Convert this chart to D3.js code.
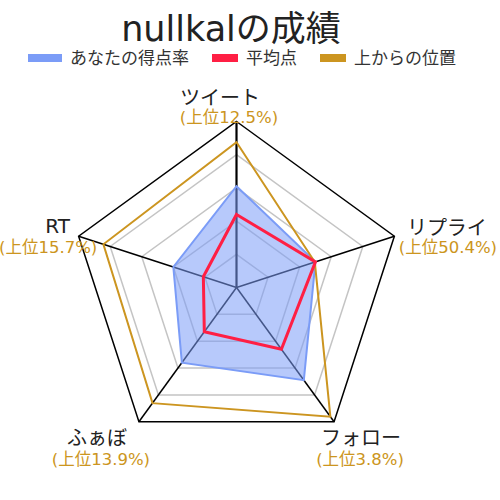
<!DOCTYPE html>
<html>
<head>
<meta charset="utf-8">
<script src="https://cdn.jsdelivr.net/npm/d3@7"></script>
<style>
  body { margin: 0; background: #fff; }
  text { font-family: "DejaVu Sans", "Noto Sans CJK JP", sans-serif; }
</style>
</head>
<body>
<div id="chart"></div>
<script>
// data (order: clockwise from the top)
var axisNames = ["ツイート", "リプライ", "フォロー", "ふぁぼ", "RT"];
var rankLabels = ["(上位12.5%)", "(上位50.4%)", "(上位3.8%)", "(上位13.9%)", "(上位15.7%)"];
var myRate = [61, 50, 69, 56, 40];
var average = [44, 50, 46, 33, 21];
var fromTop = [87.5, 49.6, 96.2, 86.1, 84.3];
var gridTicks = [20, 40, 60, 80, 100];
var seriesNames = ["あなたの得点率", "平均点", "上からの位置"];

var W = 500, H = 500;
var cx = 236.5, cy = 287.5, R = 166;
var blue = "#7b9cf7", red = "#ff1f44", gold = "#cc9520";

var r = d3.scaleLinear().domain([0, 100]).range([0, R]);
var angle = d3.scaleLinear().domain([0, axisNames.length]).range([0, 2 * Math.PI]);

function pt(i, v) {
    var a = angle(i);
    return [cx + r(v) * Math.sin(a), cy - r(v) * Math.cos(a)];
}
function ring(vals) {
    return d3.line()(vals.map(function(v, i) { return pt(i, v); })) + "Z";
}

var svg = d3.select("#chart").append("svg")
    .attr("width", W).attr("height", H);

// grid rings
svg.append("g").selectAll("path")
    .data(gridTicks)
    .enter().append("path")
    .attr("d", function(t) { return ring(axisNames.map(function() { return t; })); })
    .attr("fill", "none")
    .attr("stroke", function(t) { return t === 100 ? "#000" : "#c4c4c4"; })
    .attr("stroke-width", 1.5);

// spokes
svg.append("g").selectAll("line")
    .data(axisNames)
    .enter().append("line")
    .attr("x1", cx).attr("y1", cy)
    .attr("x2", function(d, i) { return pt(i, 100)[0]; })
    .attr("y2", function(d, i) { return pt(i, 100)[1]; })
    .attr("stroke", "#000")
    .attr("stroke-width", function(d, i) { return i === 0 ? 2.2 : 1.5; });

// series
svg.append("path")
    .attr("d", ring(myRate))
    .attr("fill", "rgba(123,156,247,0.55)")
    .attr("stroke", blue)
    .attr("stroke-width", 2);

svg.append("path")
    .attr("d", ring(fromTop))
    .attr("fill", "none")
    .attr("stroke", gold)
    .attr("stroke-width", 2);

svg.append("path")
    .attr("d", ring(average))
    .attr("fill", "none")
    .attr("stroke", red)
    .attr("stroke-width", 3);

// axis labels, placed relative to the outer vertex
var nameOffset = [[-16.5, -16.5], [52.5, -1], [27, 23], [-42, 23], [-21, -3]];
var rankOffset = [[-7.5, 1.5], [53.5, 17], [26, 43], [-38, 43], [-30.5, 17]];

var labels = svg.append("g");
labels.selectAll("text.name")
    .data(axisNames)
    .enter().append("text")
    .attr("class", "name")
    .attr("x", function(d, i) { return pt(i, 100)[0] + nameOffset[i][0]; })
    .attr("y", function(d, i) { return pt(i, 100)[1] + nameOffset[i][1]; })
    .attr("text-anchor", "middle")
    .attr("font-size", 20)
    .attr("fill", "#222")
    .text(function(d) { return d; });

labels.selectAll("text.rank")
    .data(rankLabels)
    .enter().append("text")
    .attr("class", "rank")
    .attr("x", function(d, i) { return pt(i, 100)[0] + rankOffset[i][0]; })
    .attr("y", function(d, i) { return pt(i, 100)[1] + rankOffset[i][1]; })
    .attr("text-anchor", "middle")
    .attr("font-size", 16.5)
    .attr("fill", gold)
    .text(function(d) { return d; });

// title
svg.append("text")
    .attr("x", 231).attr("y", 41)
    .attr("text-anchor", "middle")
    .attr("font-size", 35)
    .attr("fill", "#222")
    .text("nullkalの成績");

// legend
var legendX = [28, 212, 320];
var legendW = [34, 26, 26];
var legendColors = [blue, red, gold];
var leg = svg.append("g").selectAll("g")
    .data(seriesNames)
    .enter().append("g")
    .attr("transform", function(d, i) { return "translate(" + legendX[i] + ",54)"; });

leg.append("rect")
    .attr("width", function(d, i) { return legendW[i]; })
    .attr("height", 8)
    .attr("fill", function(d, i) { return legendColors[i]; });

leg.append("text")
    .attr("x", function(d, i) { return legendW[i] + 8; })
    .attr("y", 4)
    .attr("dominant-baseline", "central")
    .attr("font-size", 17)
    .attr("fill", "#333")
    .text(function(d) { return d; });
</script>
</body>
</html>
